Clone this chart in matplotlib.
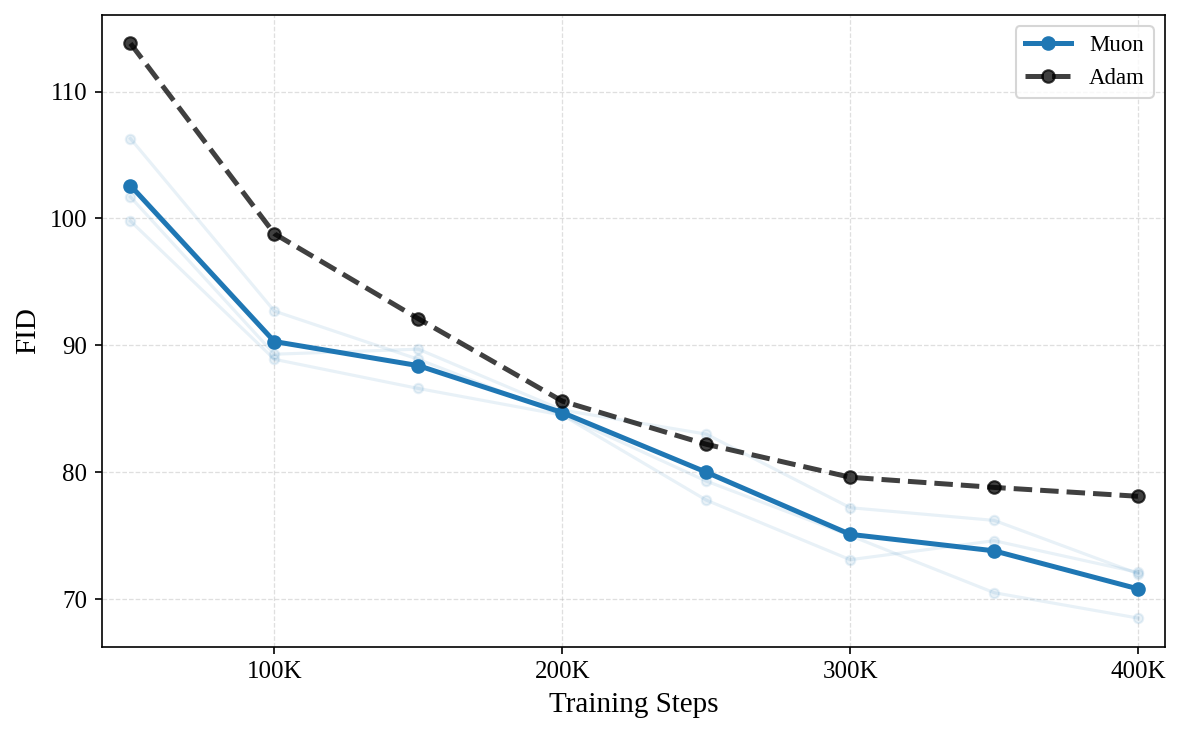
import matplotlib
matplotlib.use("Agg")
import matplotlib.pyplot as plt
from matplotlib.ticker import FuncFormatter

plt.rcParams["font.family"] = ["Liberation Serif", "DejaVu Serif"]
plt.rcParams["mathtext.fontset"] = "stix"

steps = [50000, 100000, 150000, 200000, 250000, 300000, 350000, 400000]

muon_runs = [
    [106.3, 92.7, 88.9, 84.5, 79.3, 75.0, 70.5, 68.5],
    [101.7, 89.3, 89.7, 84.9, 83.0, 77.2, 76.2, 72.0],
    [99.8, 88.9, 86.6, 84.5, 77.8, 73.1, 74.6, 72.1],
]
muon_mean = [102.6, 90.3, 88.4, 84.7, 80.0, 75.1, 73.8, 70.8]
adam = [113.8, 98.8, 92.1, 85.6, 82.2, 79.6, 78.8, 78.1]

MUON_COLOR = "#1f77b4"

fig, ax = plt.subplots(figsize=(7.88, 4.9), dpi=150)

for run in muon_runs:
    ax.plot(steps, run, color=MUON_COLOR, alpha=0.1, linewidth=1.5,
            marker="o", markersize=4.5)

ax.plot(steps, muon_mean, color=MUON_COLOR, linewidth=2.4,
        marker="o", markersize=6, label="Muon")
ax.plot(steps, adam, color="black", alpha=0.75, linewidth=2.4,
        linestyle="--", marker="o", markersize=6, label="Adam")

ax.set_xlim(40000, 409500)
ax.set_xticks([100000, 200000, 300000, 400000])
ax.xaxis.set_major_formatter(FuncFormatter(lambda v, _: f"{int(v / 1000)}K"))
ax.set_yticks([70, 80, 90, 100, 110])

ax.set_xlabel("Training Steps", fontsize=14)
ax.set_ylabel("FID", fontsize=14)
ax.tick_params(labelsize=12)
ax.grid(True, linestyle="--", alpha=0.4, linewidth=0.6)
ax.legend(loc="upper right", fontsize=11)

fig.subplots_adjust(left=0.086, right=0.986, top=0.98, bottom=0.12)
fig.savefig("out.png", dpi=150)
